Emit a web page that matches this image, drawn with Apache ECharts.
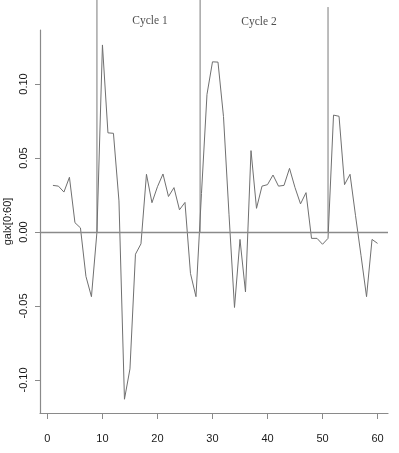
<!DOCTYPE html>
<html>
<head>
<meta charset="utf-8">
<script src="https://cdn.jsdelivr.net/npm/echarts@6/dist/echarts.min.js"></script>
<style>
html,body{margin:0;padding:0;background:#fff;}
#chart{width:399px;height:453px;}
</style>
</head>
<body>
<div id="chart"></div>
<script>
// index values (x) of the series
var xIndex = [1,2,3,4,5,6,7,8,9,10,11,12,13,14,15,16,17,18,19,20,
  21,22,23,24,25,26,27,28,29,30,31,32,33,34,35,36,37,38,39,40,
  41,42,43,44,45,46,47,48,49,50,51,52,53,54,55,56,57,58,59,60];
// galx[0:60] values
var galx = [0.0315,0.031,0.027,0.037,0.0063,0.0028,-0.030,-0.0437,0.0,0.1264,
  0.067,0.0667,0.021,-0.113,-0.0925,-0.015,-0.008,0.039,0.0198,0.0306,
  0.0392,0.024,0.030,0.015,0.020,-0.028,-0.0437,0.026,0.093,0.115,
  0.1148,0.078,0.012,-0.051,-0.005,-0.0405,0.055,0.016,0.031,0.032,
  0.0385,0.031,0.0315,0.043,0.030,0.019,0.0266,-0.0043,-0.0043,-0.0083,
  -0.0043,0.079,0.0782,0.032,0.039,0.011,-0.016,-0.0437,-0.005,-0.0077];
// cycle boundary positions and the height their segments reach
var cycleBounds = [9, 27.75, 51];
var cycleTops = [0.16, 0.16, 0.152];
// cycle labels and their anchor positions
var cycleNames = ['Cycle 1', 'Cycle 2'];
var cycleLabelX = [18.65, 38.45];
var cycleLabelY = [0.1428, 0.1422];
// tick values
var xTicks = [0,10,20,30,40,50,60];
var yTicks = [-0.10,-0.05,0.00,0.05,0.10];
var yTickLabels = ['-0.10','-0.05','0.00','0.05','0.10'];

var lineColor = '#707070';
var axisColor = '#8a8a8a';

var series = [];
series.push({
  type: 'line',
  data: xIndex.map(function(x,i){ return [x, galx[i]]; }),
  showSymbol: false,
  symbol: 'none',
  lineStyle: { color: lineColor, width: 1 },
  silent: true,
  animation: false,
  z: 3,
  markLine: {
    silent: true,
    symbol: ['none','none'],
    label: { show: false },
    lineStyle: { color: '#8a8a8a', width: 1.3, type: 'solid' },
    data: [{ yAxis: 0 }],
    animation: false
  }
});
cycleBounds.forEach(function(b, i){
  series.push({
    type: 'line',
    data: [[b, 0], [b, cycleTops[i]]],
    showSymbol: false,
    symbol: 'none',
    clip: false,
    lineStyle: { color: '#7a7a7a', width: 1 },
    silent: true,
    animation: false,
    z: 2
  });
});
series.push({
  type: 'scatter',
  clip: false,
  symbolSize: 0,
  silent: true,
  animation: false,
  data: cycleNames.map(function(n,i){ return { name: n, value: [cycleLabelX[i], cycleLabelY[i]] }; }),
  label: {
    show: true,
    position: 'inside',
    formatter: function(p){ return p.name; },
    fontFamily: '"Liberation Serif", "DejaVu Serif", serif',
    fontSize: 11.5,
    color: '#222'
  }
});

var chart = echarts.init(document.getElementById('chart'), null, { renderer: 'canvas' });
chart.setOption({
  backgroundColor: '#fff',
  animation: false,
  grid: { left: 40, right: 11, top: 30, bottom: 40, containLabel: false, outerBoundsMode: 'none' },
  xAxis: {
    type: 'value',
    min: -1.35,
    max: 61.9,
    splitLine: { show: false },
    axisLine: { show: true, onZero: false, lineStyle: { color: axisColor, width: 1.2 } },
    axisTick: { show: true, length: 6, customValues: xTicks, lineStyle: { color: axisColor } },
    axisLabel: {
      customValues: xTicks,
      margin: 20,
      fontFamily: '"Liberation Sans", Arial, sans-serif',
      fontSize: 11,
      color: '#1a1a1a',
      showMinLabel: true,
      showMaxLabel: true
    }
  },
  yAxis: {
    type: 'value',
    min: -0.1223,
    max: 0.1365,
    name: 'galx[0:60]',
    nameLocation: 'middle',
    nameGap: 27,
    nameMoveOverlap: false,
    nameTextStyle: { fontFamily: '"Liberation Sans", Arial, sans-serif', fontSize: 11, color: '#1a1a1a' },
    splitLine: { show: false },
    axisLine: { show: true, onZero: false, lineStyle: { color: axisColor, width: 1.2 } },
    axisTick: { show: true, length: 5, customValues: yTicks, lineStyle: { color: axisColor } },
    axisLabel: {
      customValues: yTicks,
      rotate: 90,
      margin: 11,
      fontFamily: '"Liberation Sans", Arial, sans-serif',
      fontSize: 11,
      color: '#1a1a1a',
      formatter: function(v){
        var i = yTicks.findIndex(function(t){ return Math.abs(t - v) < 1e-9; });
        return i >= 0 ? yTickLabels[i] : '';
      }
    }
  },
  series: series
});
</script>
</body>
</html>
